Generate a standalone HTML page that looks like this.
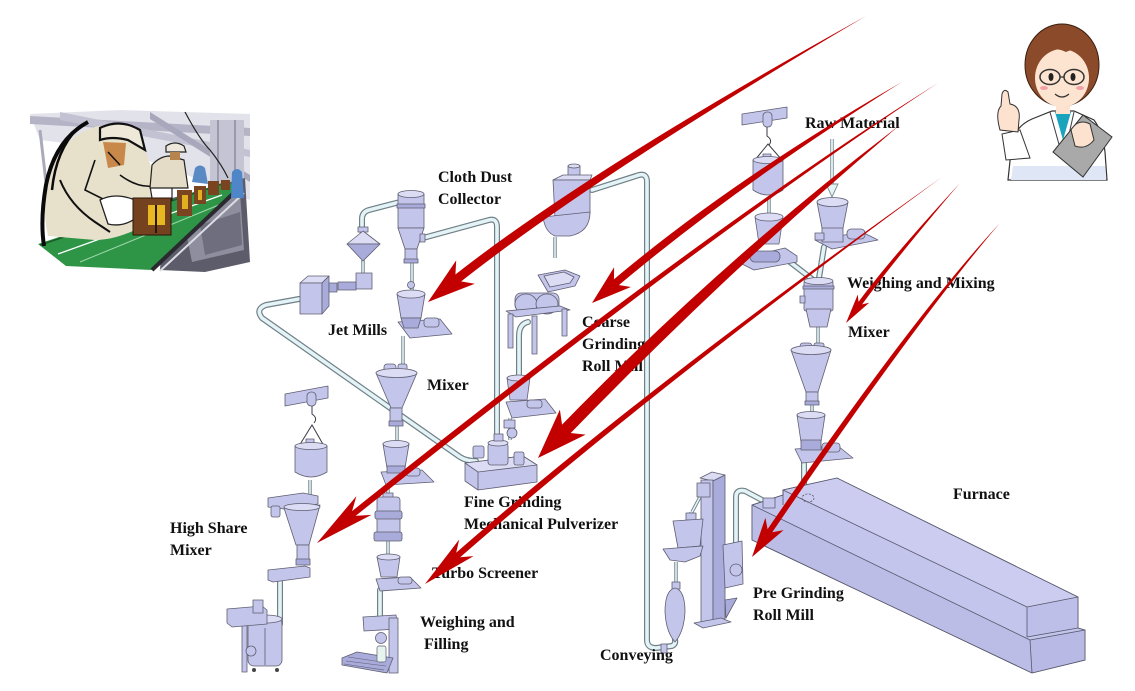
<!DOCTYPE html>
<html><head><meta charset="utf-8">
<style>
html,body{margin:0;padding:0;background:#fff;}
svg{display:block;}
.e{fill:#c4c5ea;stroke:#5e5e72;stroke-width:.8;stroke-linejoin:round}
.d{fill:#a9abda;stroke:#5e5e72;stroke-width:.8;stroke-linejoin:round}
.l{fill:#dcdcf4;stroke:#5e5e72;stroke-width:.8;stroke-linejoin:round}
.po{fill:none;stroke:#6f8088;stroke-width:6;stroke-linecap:round;stroke-linejoin:round}
.pi{fill:none;stroke:#e4f3f5;stroke-width:3.6;stroke-linecap:round;stroke-linejoin:round}
.sp{fill:none;stroke:#6f8088;stroke-width:3.4}
.spi{fill:none;stroke:#e4f3f5;stroke-width:1.6}
.k{fill:none;stroke:#3a3a44;stroke-width:1}
text{font-family:"Liberation Serif",serif;font-weight:bold;font-size:16px;fill:#111;}
.r{fill:#c20000}
</style></head><body>
<svg width="1135" height="691" viewBox="0 0 1135 691" xmlns="http://www.w3.org/2000/svg">
<rect width="1135" height="691" fill="#fff"/>

<!-- ===== factory clipart ===== -->
<g>
<polygon points="30,114 120,110 250,114 250,200 200,180 120,150 40,140" fill="#e2e2ea"/>
<polygon points="30,116 250,128 250,136 30,124" fill="#b4b4c6"/>
<polygon points="60,112 250,150 250,157 60,120" fill="#c2c2d2"/>
<polygon points="150,112 250,175 250,182 150,119" fill="#a8a8bc"/>
<rect x="210" y="120" width="34" height="65" fill="#c4c4d2"/>
<line x1="218" y1="120" x2="218" y2="185" stroke="#9a9aae" stroke-width="2"/>
<line x1="235" y1="120" x2="235" y2="185" stroke="#9a9aae" stroke-width="2"/>
<path d="M185,112 Q200,140 210,150 Q222,165 228,178" stroke="#222" stroke-width="1.2" fill="none"/>
<path d="M40,130 L48,200" stroke="#aaaabb" stroke-width="3"/>
<polygon points="165,200 245,178 250,262 205,272 160,270" fill="#5c5c6a"/>
<polygon points="182,212 240,192 244,250 192,262" fill="#8e8e9e"/>
<polygon points="200,225 240,212 242,245 205,255" fill="#6e6e7e"/>
<polygon points="38,244 228,181 236,189 152,270 66,266" fill="#2e9546"/>
<line x1="58" y1="254" x2="222" y2="195" stroke="#fff" stroke-width="1.3"/>
<line x1="80" y1="262" x2="226" y2="202" stroke="#9fd8ac" stroke-width="1"/>
<line x1="40" y1="245" x2="228" y2="182" stroke="#1c5a2a" stroke-width="1.5"/>
<line x1="152" y1="270" x2="238" y2="189" stroke="#2a2a30" stroke-width="4"/>
<line x1="160" y1="271" x2="244" y2="193" stroke="#dcdce4" stroke-width="2"/>
<path d="M48,236 Q40,200 52,165 Q66,135 98,126 L140,134 L152,170 L168,200 L150,222 Q120,240 95,240 Z" fill="#e7e1cc"/>
<path d="M88,122 Q55,140 46,185 Q40,220 44,246" stroke="#0a0a0a" stroke-width="4" fill="none"/>
<path d="M78,128 Q56,150 52,190" stroke="#0a0a0a" stroke-width="2.5" fill="none"/>
<path d="M60,180 Q70,205 95,222 L110,232" stroke="#111" stroke-width="2" fill="none"/>
<path d="M95,160 L85,190 L105,200" stroke="#111" stroke-width="1.6" fill="none"/>
<path d="M120,175 Q140,190 158,185" stroke="#111" stroke-width="1.6" fill="none"/>
<path d="M100,128 Q120,118 140,130 L145,150 L128,140 Q112,136 100,140 Z" fill="#ede8d8" stroke="#111" stroke-width="2.2"/>
<path d="M103,142 L126,143 L124,165 L108,168 Z" fill="#c8884a"/>
<path d="M108,152 L120,165" stroke="#111" stroke-width="1.5"/>
<path d="M100,200 Q115,192 135,200 L140,215 Q125,228 108,224 Z" fill="#fff" stroke="#222" stroke-width="1.3"/>
<path d="M150,186 Q162,180 172,188 L172,200 Q160,204 152,198 Z" fill="#fff" stroke="#222" stroke-width="1.2"/>
<rect x="133" y="198" width="38" height="37" fill="#74421e" stroke="#2a1508" stroke-width="1"/>
<rect x="148" y="205" width="17" height="20" fill="#e8b820"/>
<line x1="156" y1="205" x2="156" y2="233" stroke="#2a1508" stroke-width="2"/>
<rect x="177" y="190" width="15" height="26" fill="#7a4420"/>
<rect x="182" y="195" width="6" height="14" fill="#e0b020"/>
<rect x="194" y="186" width="12" height="18" fill="#7a4420"/>
<rect x="198" y="190" width="4" height="10" fill="#e0b020"/>
<rect x="208" y="181" width="11" height="14" fill="#7a4420"/>
<rect x="221" y="180" width="9" height="10" fill="#7a4420"/>
<path d="M150,188 L152,165 Q160,156 170,156 L184,160 L188,188 Z" fill="#e4dcc6" stroke="#222" stroke-width="1.2"/>
<path d="M166,146 Q175,140 184,146 L186,152 L166,152 Z" fill="#eee8dc" stroke="#222" stroke-width="1.2"/>
<rect x="170" y="152" width="10" height="8" fill="#b8844e"/>
<path d="M192,182 L195,168 Q200,163 205,168 L208,184 Z" fill="#5a8ac4"/>
<path d="M231,198 L232,172 Q237,166 242,172 L244,198 Z" fill="#4e86c8"/>
</g>

<!-- ===== teacher ===== -->
<g>
<path d="M1008,180 L1012,142 Q1016,126 1032,119 L1052,111 L1074,111 L1094,120 Q1103,132 1105,152 L1107,180 Z" fill="#fff" stroke="#333" stroke-width="1.2"/>
<path d="M1013,166 L1105,166 L1106,180 L1011,180 Z" fill="#dfe6f5"/>
<polygon points="1055,112 1071,112 1063,140" fill="#1aa3bd"/>
<path d="M1050,112 L1060,148 M1074,112 L1066,148" class="k"/>
<rect x="1056" y="100" width="14" height="14" fill="#fde3cf"/>
<ellipse cx="1062" cy="65" rx="37" ry="41" fill="#8b4b2b" stroke="#3a2010"/>
<ellipse cx="1062" cy="78" rx="27" ry="29" fill="#fde4d0"/>
<path d="M1032,74 Q1033,38 1062,35 Q1094,36 1095,72 L1088,58 Q1078,46 1066,52 Q1050,44 1040,60 Z" fill="#8b4b2b"/>
<ellipse cx="1050" cy="77" rx="10" ry="7.5" fill="none" stroke="#333" stroke-width="1.5"/>
<ellipse cx="1074" cy="77" rx="10" ry="7.5" fill="none" stroke="#333" stroke-width="1.5"/>
<line x1="1060" y1="77" x2="1064" y2="77" stroke="#333" stroke-width="1.3"/>
<ellipse cx="1051" cy="77" rx="2.5" ry="4" fill="#222"/>
<ellipse cx="1073" cy="77" rx="2.5" ry="4" fill="#222"/>
<ellipse cx="1044" cy="88" rx="4" ry="2" fill="#f4a0a8"/>
<ellipse cx="1080" cy="88" rx="4" ry="2" fill="#f4a0a8"/>
<path d="M1055,94 Q1062,100 1069,94" stroke="#333" fill="none" stroke-width="1.2"/>
<polygon points="1053,152 1083,115 1112,137 1083,177" fill="#a9a9a9" stroke="#333"/>
<path d="M1071,130 Q1078,118 1090,124 L1094,140 Q1086,150 1075,146 Z" fill="#fde3cf" stroke="#333"/>
<path d="M1006,160 L1002,134 L1020,130 L1030,158 Z" fill="#fff" stroke="#333"/>
<path d="M1000,130 Q995,112 1001,106 L1002,94 Q1004,88 1008,92 L1010,104 Q1021,106 1019,120 L1018,132 Z" fill="#fde3cf" stroke="#333"/>
</g>

<!-- ===== pipes ===== -->
<g>
<path class="po" d="M400,202 L369,210 Q362,212 362,219 L362,231"/><path class="pi" d="M400,202 L369,210 Q362,212 362,219 L362,231"/>
<path class="po" d="M299,299 L266,305 Q255,309 262,318 L460,457 Q466,461 476,461"/><path class="pi" d="M299,299 L266,305 Q255,309 262,318 L460,457 Q466,461 476,461"/>
<path class="po" d="M423,238 L489,220 Q497,218 497,227 L497,447"/><path class="pi" d="M423,238 L489,220 Q497,218 497,227 L497,447"/>
<path class="po" d="M592,190 L639,175 Q647,173 647,182 L647,640 Q647,648 656,648 L672,646 Q676,644 675,640"/><path class="pi" d="M592,190 L639,175 Q647,173 647,182 L647,640 Q647,648 656,648 L672,646 Q676,644 675,640"/>
<path class="po" d="M528,322 Q519,324 519,336 L519,378"/><path class="pi" d="M528,322 Q519,324 519,336 L519,378"/>
<path class="po" d="M790,262 L812,279"/><path class="pi" d="M790,262 L812,279"/>
<path class="po" d="M824,247 L819,278"/><path class="pi" d="M824,247 L819,278"/>
<path class="po" d="M804,458 L804,490"/><path class="pi" d="M804,458 L804,490"/>
<path class="po" d="M736,545 L736,497 Q736,489 745,491 L762,500"/><path class="pi" d="M736,545 L736,497 Q736,489 745,491 L762,500"/>
<path class="po" d="M280,580 L280,624"/><path class="pi" d="M280,580 L280,624"/>
<path class="po" d="M380,590 L380,616"/><path class="pi" d="M380,590 L380,616"/>
<path class="sp" d="M412,262 L412,290 M363,260 L363,274 M403,336 L403,366 M397,426 L397,443 M388,484 L388,497 M388,541 L388,557 M769,197 L769,214 M555,237 L555,258 M818,327 L818,346 M812,404 L812,414 M310,480 L310,495 M691,512 L691,521 M676,562 L676,588 M510,418 L510,440 M700,497 L692,512"/>
<path class="spi" d="M412,262 L412,290 M363,260 L363,274 M403,336 L403,366 M397,426 L397,443 M388,484 L388,497 M388,541 L388,557 M769,197 L769,214 M555,237 L555,258 M818,327 L818,346 M812,404 L812,414 M310,480 L310,495 M691,512 L691,521 M676,562 L676,588 M510,418 L510,440 M700,497 L692,512"/>
</g>

<!-- ===== cloth dust collector / jet mill column ===== -->
<g>
<rect class="e" x="398" y="194" width="26" height="34"/>
<rect class="d" x="397" y="204" width="28" height="4"/>
<ellipse class="l" cx="411" cy="194" rx="13" ry="3.5"/>
<polygon class="e" points="398,228 424,228 417,249 405,249"/>
<rect class="e" x="405" y="249" width="12" height="12"/>
<rect class="d" x="404" y="259" width="14" height="4"/>
<rect class="e" x="420" y="234" width="5" height="8"/>
<rect class="e" x="358" y="227" width="10" height="5"/>
<polygon class="l" points="363,231 380,244 347,244"/>
<polygon class="d" points="347,244 380,244 363,261"/>
<rect class="e" x="356" y="273" width="16" height="16"/>
<rect class="d" x="338" y="282" width="18" height="8"/>
<polygon class="l" points="300,283 308,276 329,276 322,283"/>
<rect class="e" x="300" y="283" width="22" height="31"/>
<polygon class="d" points="322,283 329,276 329,306 322,314"/>
<rect class="d" x="329" y="283" width="8" height="9"/>
<polygon class="e" points="398,322 440,319 452,334 410,338"/>
<polygon class="e" points="397,294 425,294 421,318 401,318"/>
<ellipse class="l" cx="411" cy="294" rx="14" ry="4"/>
<polygon class="d" points="401,318 421,318 418,328 404,328"/>
<rect class="e" x="424" y="318" width="15" height="9" rx="3"/>
<circle class="e" cx="411" cy="285" r="3.5"/>
<rect class="e" x="384" y="364" width="12" height="8" rx="3"/>
<rect class="e" x="398" y="364" width="9" height="8" rx="2"/>
<polygon class="e" points="376,373 417,373 402,408 391,408"/>
<ellipse class="l" cx="396.5" cy="373" rx="20.5" ry="4.5"/>
<rect class="e" x="390" y="408" width="12" height="15"/>
<rect class="d" x="389" y="421" width="14" height="5"/>
<polygon class="e" points="381,472 422,470 434,482 386,485"/>
<polygon class="e" points="383,444 409,444 405,468 387,468"/>
<ellipse class="l" cx="396" cy="444" rx="13" ry="3.5"/>
<rect class="d" x="387" y="466" width="18" height="7"/>
<rect class="e" x="406" y="468" width="14" height="8" rx="3"/>
<rect class="e" x="383" y="493" width="10" height="5"/>
<rect class="e" x="377" y="497" width="23" height="41" rx="3"/>
<rect class="d" x="375" y="511" width="27" height="8" rx="2"/>
<rect class="d" x="374" y="532" width="28" height="9" rx="2"/>
<polygon class="e" points="376,579 410,577 421,588 380,591"/>
<polygon class="e" points="377,557 400,557 397,577 381,577"/>
<ellipse class="l" cx="388.5" cy="557" rx="11.5" ry="3"/>
<rect class="e" x="398" y="577" width="14" height="7" rx="3"/>
<polygon class="e" points="363,617 396,615 398,629 364,631"/>
<rect class="e" x="389" y="618" width="9" height="55"/>
<polygon class="d" points="342,658 357,652 393,658 387,673 342,665"/>
<path d="M348,657 L382,662 M346,661 L386,666 M344,664 L384,670" stroke="#5e5e72" stroke-width=".6"/>
<circle class="e" cx="381" cy="638" r="5.5"/>
<rect x="377" y="646" width="9" height="16" rx="2" fill="#e6f4ee" stroke="#5e5e72" stroke-width=".7"/>
</g>

<!-- ===== high share mixer column ===== -->
<g>
<polygon class="e" points="285,394 328,386 328,398 285,406"/>
<rect class="e" x="307" y="392" width="9" height="14" rx="4"/>
<path class="k" d="M312,406 L312,414 Q318,418 314,423" stroke-width="1.4"/>
<polyline class="k" points="299,446 312,425 324,446"/>
<rect class="e" x="306" y="439" width="8" height="6"/>
<path class="e" d="M295,446 L327,446 L327,472 Q311,482 295,472 Z"/>
<ellipse class="l" cx="311" cy="446" rx="16" ry="3.5"/>
<polygon class="e" points="268,498 303,493 318,496 318,504 284,509 268,507"/>
<rect class="e" x="271" y="506" width="9" height="11" rx="2"/>
<polygon class="e" points="284,508 320,505 309,545 296,545"/>
<ellipse class="l" cx="302" cy="507" rx="18" ry="3.5"/>
<rect class="e" x="297" y="545" width="12" height="16"/>
<rect class="d" x="296" y="559" width="14" height="6"/>
<polygon class="e" points="268,570 305,566 310,568 310,577 273,582 268,580"/>
<rect class="e" x="242" y="625" width="5" height="47"/>
<rect class="e" x="248" y="618" width="34" height="48" rx="6"/>
<ellipse class="l" cx="265" cy="619" rx="17" ry="4"/>
<line x1="265" y1="628" x2="265" y2="665" stroke="#5e5e72" stroke-width=".8"/>
<polygon class="e" points="227,609 262,606 267,610 267,624 232,627 227,623"/>
<rect class="e" x="253" y="600" width="10" height="13"/>
<circle class="e" cx="251" cy="651" r="5"/>
<circle cx="254" cy="670" r="2" fill="#444"/><circle cx="277" cy="670" r="2" fill="#444"/>
</g>

<!-- ===== coarse grinding ===== -->
<g>
<rect class="e" x="568" y="166" width="12" height="12"/>
<ellipse class="l" cx="574" cy="166" rx="6" ry="2"/>
<polygon class="l" points="553,180 563,175 592,175 590,180"/>
<polygon class="e" points="553,180 590,180 590,214 555,218"/>
<path class="e" d="M543,217 L590,212 Q590,232 570,236 L555,236 Q545,232 543,217 Z"/>
<polygon class="e" points="538,275 565,270 580,276 575,286 548,292"/>
<polygon class="l" points="544,276 564,272 574,277 570,283 550,287"/>
<rect class="e" x="515" y="293" width="44" height="18" rx="6"/>
<ellipse class="e" cx="526" cy="304" rx="11" ry="10"/>
<ellipse class="e" cx="547" cy="304" rx="11" ry="10"/>
<polygon class="e" points="506,311 560,306 570,310 516,317"/>
<rect class="e" x="508" y="314" width="5" height="34"/>
<rect class="e" x="532" y="316" width="5" height="38"/>
<rect class="e" x="562" y="309" width="5" height="27"/>
<polygon class="e" points="506,402 545,399 556,413 512,418"/>
<polygon class="e" points="507,378 530,378 527,400 510,400"/>
<ellipse class="l" cx="518.5" cy="378" rx="11.5" ry="3"/>
<rect class="e" x="527" y="400" width="15" height="8" rx="3"/>
<circle class="e" cx="512" cy="433" r="5"/>
<rect class="e" x="504" y="420" width="11" height="8"/>
<polygon class="e" points="465,463 523,456 537,465 537,482 478,490 465,481"/>
<polygon class="l" points="465,463 523,456 537,465 478,472"/>
<line x1="478" y1="472" x2="478" y2="490" stroke="#5e5e72" stroke-width=".8"/>
<rect class="e" x="488" y="443" width="20" height="22" rx="3"/>
<ellipse class="l" cx="498" cy="443" rx="10" ry="3"/>
<rect class="e" x="473" y="446" width="11" height="12" rx="2"/>
<rect class="e" x="514" y="452" width="10" height="13" rx="2"/>
<rect class="e" x="494" y="434" width="9" height="7"/>
</g>

<!-- ===== raw material / weighing & mixing ===== -->
<g>
<polygon class="e" points="742,114 787,107 787,118 742,125"/>
<rect class="e" x="763" y="112" width="9" height="15" rx="4"/>
<path class="k" d="M767,127 L767,136 Q773,140 769,145" stroke-width="1.4"/>
<polyline class="k" points="755,160 768,144 782,160"/>
<rect class="e" x="763" y="154" width="8" height="6"/>
<path class="e" d="M753,160 L783,160 L783,190 Q768,200 753,190 Z"/>
<ellipse class="l" cx="768" cy="160" rx="15" ry="3.5"/>
<polygon class="e" points="742,258 785,248 797,256 797,262 754,270 742,264"/>
<polygon class="e" points="755,217 783,217 779,244 759,244"/>
<ellipse class="l" cx="769" cy="217" rx="14" ry="4"/>
<rect class="d" x="750" y="251" width="30" height="11" rx="5"/>
<line x1="832" y1="139" x2="832" y2="186" stroke="#7a8c92" stroke-width="3.5"/>
<line x1="832" y1="139" x2="832" y2="186" stroke="#e4f3f5" stroke-width="1.8"/>
<polygon points="826,184 838,184 832,197" fill="#e4f3f5" stroke="#7a8c92" stroke-width=".9"/>
<polygon class="e" points="815,240 862,232 878,240 832,249"/>
<rect class="e" x="822" y="224" width="21" height="18"/>
<polygon class="e" points="817,202 848,202 843,228 822,228"/>
<ellipse class="l" cx="832.5" cy="202" rx="15.5" ry="4.5"/>
<rect class="e" x="847" y="229" width="18" height="10" rx="4"/>
<rect class="e" x="815" y="233" width="9" height="7"/>
<rect class="e" x="804" y="281" width="29" height="30" rx="2"/>
<ellipse class="l" cx="818.5" cy="281" rx="14.5" ry="3.5"/>
<rect class="d" x="803" y="286" width="31" height="3"/>
<polygon class="e" points="806,309 831,309 827,327 810,327"/>
<rect class="e" x="800" y="296" width="5" height="7"/>
<rect class="e" x="800" y="343" width="12" height="8" rx="3"/>
<rect class="e" x="814" y="343" width="10" height="7" rx="2"/>
<polygon class="e" points="791,350 831,350 818,392 806,392"/>
<ellipse class="l" cx="811" cy="350" rx="20" ry="4.5"/>
<rect class="e" x="806" y="392" width="12" height="11"/>
<rect class="d" x="805" y="401" width="14" height="4"/>
<polygon class="e" points="795,449 838,446 853,458 802,463"/>
<polygon class="e" points="797,415 825,415 821,442 801,442"/>
<ellipse class="l" cx="811" cy="415" rx="14" ry="3.5"/>
<rect class="d" x="801" y="440" width="20" height="10"/>
<rect class="e" x="822" y="443" width="18" height="9" rx="3"/>
</g>

<!-- ===== furnace ===== -->
<g>
<polygon points="752,505 783,495 783,490 837,478 1078,597 1078,628 1085,630 1085,660 1032,673 752,540" fill="#c4c5ec" stroke="#55566a" stroke-width=".8"/>
<polygon points="783,490 837,478 1078,597 1027,607" fill="#cbccf0"/>
<polygon points="752,505 1030,640 1032,673 752,540" fill="#bcbde6"/>
<polygon points="1027,607 1078,597 1078,628 1027,637" fill="#bebfe8"/>
<polygon points="1030,640 1085,630 1085,660 1032,673" fill="#b8b9e4"/>
<g stroke="#55566a" stroke-width=".8" fill="none">
<polygon points="752,505 783,495 783,490 837,478 1078,597 1078,628 1085,630 1085,660 1032,673 752,540"/>
<line x1="783" y1="490" x2="1027" y2="607"/>
<line x1="752" y1="505" x2="1030" y2="640"/>
<line x1="1027" y1="607" x2="1078" y2="597"/>
<line x1="1027" y1="607" x2="1027" y2="637"/>
<line x1="1027" y1="637" x2="1078" y2="628"/>
<line x1="1030" y1="640" x2="1085" y2="630"/>
<line x1="1030" y1="640" x2="1032" y2="673"/>
<line x1="783" y1="490" x2="783" y2="505"/>
</g>
<rect class="e" x="763" y="498" width="12" height="10"/>
<ellipse cx="808" cy="498" rx="6" ry="4" fill="none" stroke="#55566a" stroke-width=".8" stroke-dasharray="2,1.5"/>
</g>

<!-- ===== pre grinding ===== -->
<g>
<polygon class="l" points="700,478 712,472 725,475 713,481"/>
<rect class="e" x="701" y="480" width="12" height="143"/>
<polygon class="d" points="713,481 725,475 725,619 713,623"/>
<polygon class="e" points="694,623 721,618 731,622 703,628"/>
<rect class="e" x="697" y="483" width="13" height="14"/>
<rect class="e" x="686" y="513" width="10" height="7"/>
<polygon class="e" points="673,521 703,519 700,546 678,548"/>
<polygon class="e" points="663,549 703,546 700,556 685,562 670,560"/>
<rect class="e" x="672" y="582" width="8" height="7"/>
<path class="e" d="M675,588 Q665,590 665,612 Q666,632 675,642 Q684,632 685,612 Q685,590 675,588 Z"/>
<polygon class="e" points="723,545 742,541 743,584 725,588"/>
<circle class="e" cx="736" cy="570" r="6"/>
<polygon class="d" points="725,600 737,598 726,618"/>
<rect class="e" x="661" y="644" width="6" height="9"/>
</g>

<!-- ===== labels ===== -->
<g>
<text x="805" y="128">Raw Material</text>
<text x="438" y="182">Cloth Dust</text>
<text x="438" y="204">Collector</text>
<text x="328" y="335">Jet Mills</text>
<text x="427" y="390">Mixer</text>
<text x="582" y="327">Coarse</text>
<text x="582" y="349">Grinding</text>
<text x="582" y="371">Roll Mill</text>
<text x="847" y="288">Weighing and Mixing</text>
<text x="848" y="337">Mixer</text>
<text x="170" y="533">High Share</text>
<text x="170" y="555">Mixer</text>
<text x="464" y="507">Fine Grinding</text>
<text x="464" y="529">Mechanical Pulverizer</text>
<text x="432" y="578">Turbo Screener</text>
<text x="420" y="627">Weighing and</text>
<text x="424" y="649">Filling</text>
<text x="600" y="660">Conveying</text>
<text x="753" y="598">Pre Grinding</text>
<text x="753" y="620">Roll Mill</text>
<text x="953" y="499">Furnace</text>
</g>

<!-- ===== red arrows ===== -->
<g>
<path class="r" d="M866,16 Q583.2,172.5 447.7,280.6 L453.3,287.6 Q588.8,179.5 866,16 Z"/>
<path class="r" d="M428,302 L456.2,260.4 L455.1,280.4 L474.8,283.8 Z"/>
<path class="r" d="M902,82 Q729.5,181.1 607.8,284.5 L612.8,290.3 Q734.5,186.9 902,82 Z"/>
<path class="r" d="M592,303 L614.1,267.2 L613.9,284.3 L630.9,287 Z"/>
<path class="r" d="M900,125 Q722.7,258.8 554.6,432.3 L563.2,440.7 Q731.3,267.2 900,125 Z"/>
<path class="r" d="M538,458 L559.9,409.6 L563.1,432.2 L585.7,434.6 Z"/>
<path class="r" d="M938,83 Q706.1,227.7 343.2,518.2 L347,522.8 Q709.9,232.3 938,83 Z"/>
<path class="r" d="M317,543 L356.4,496.1 L350.6,516.1 L371.4,514.9 Z"/>
<path class="r" d="M942,177 Q642,389.7 447.8,560 L451.8,564.6 Q646,394.3 942,177 Z"/>
<path class="r" d="M425,584 L459.2,539.5 L455.1,557.6 L473.6,556.1 Z"/>
<path class="r" d="M960,183 Q885.7,263.7 854.7,307.1 L858.3,309.7 Q889.3,266.3 960,183 Z"/>
<path class="r" d="M846,323 L857.8,294.5 L858.8,305.1 L869.2,302.7 Z"/>
<path class="r" d="M1000,223 Q910.3,319.4 763.2,535.6 L767.8,538.8 Q914.9,322.6 1000,223 Z"/>
<path class="r" d="M752,557 L765.4,517.7 L768.3,533 L783.6,530.1 Z"/>
</g>
</svg>
</body></html>
